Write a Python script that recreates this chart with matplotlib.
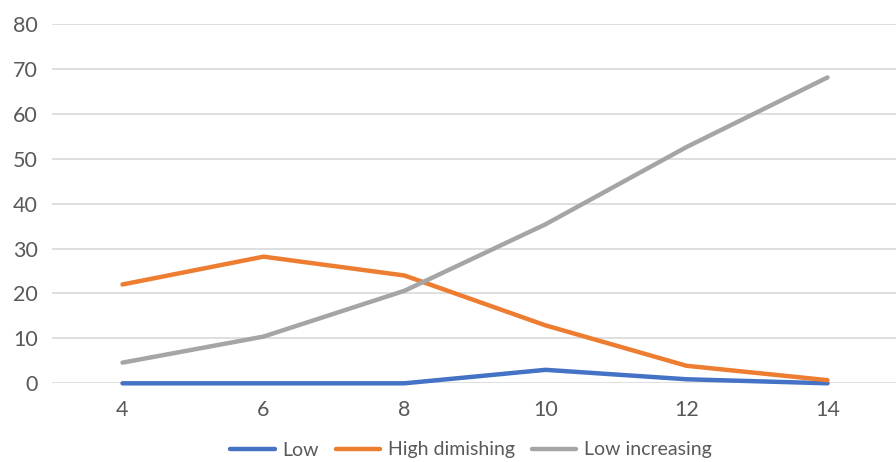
import matplotlib
matplotlib.use("Agg")
import matplotlib.pyplot as plt

categories = ["4", "6", "8", "10", "12", "14"]
low = [0, 0, 0, 3.0, 0.9, 0]
high_dimishing = [22.0, 28.2, 24.0, 12.9, 3.9, 0.7]
low_increasing = [4.6, 10.4, 20.6, 35.4, 52.6, 68.1]
yticks = [0, 10, 20, 30, 40, 50, 60, 70, 80]

plt.rcParams['font.family'] = ['Lato', 'DejaVu Sans']
txt = '#595959'

fig = plt.figure(figsize=(8.96, 4.62), dpi=100)
ax = fig.add_axes([52/896, (462-383.3)/462, 846/896, (383.3-24)/462])
x = list(range(len(categories)))
ax.plot(x, low, color='#4472C4', lw=3.2, solid_capstyle='round', label='Low', zorder=3, clip_on=False)
ax.plot(x, high_dimishing, color='#ED7D31', lw=3.2, solid_capstyle='round', label='High dimishing', zorder=3, clip_on=False)
ax.plot(x, low_increasing, color='#A5A5A5', lw=3.2, solid_capstyle='round', label='Low increasing', zorder=3, clip_on=False)

ax.set_xlim(-0.5, len(categories) - 0.5)
ax.set_ylim(0, 80)
ax.set_yticks(yticks)
ax.set_xticks(x)
ax.set_xticklabels(categories)
ax.grid(axis='y', color='#D9D9D9', lw=1.2)
ax.set_axisbelow(True)
for s in ax.spines.values():
    s.set_visible(False)
ax.tick_params(length=0, labelsize=15.5, colors=txt, pad=12)
ax.tick_params(axis='y', pad=10)
for lab in ax.get_yticklabels() + ax.get_xticklabels():
    lab.set_color(txt)

fig.legend(loc='center', bbox_to_anchor=(471/896, 1 - 450/462), ncol=3, frameon=False,
           fontsize=14, labelcolor=txt, handlelength=2.3, handletextpad=0.4, columnspacing=0.85)

fig.savefig('out.png', dpi=100)
